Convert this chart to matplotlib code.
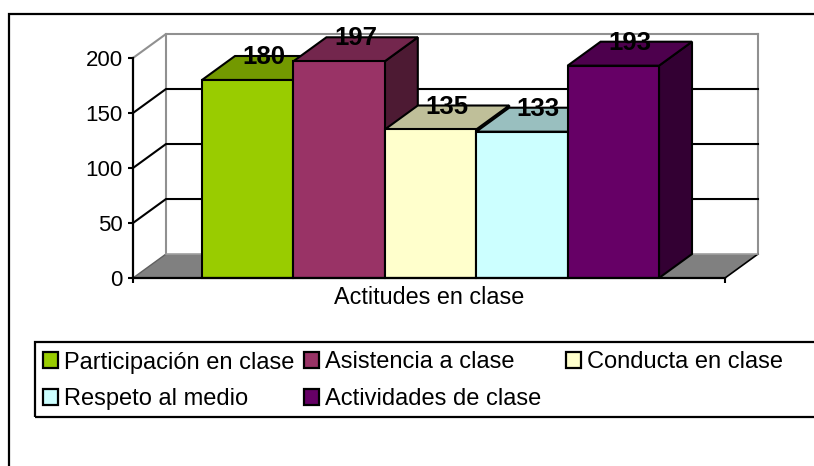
import matplotlib
matplotlib.use("Agg")
import matplotlib.pyplot as plt
from matplotlib.patches import Polygon, Rectangle, Patch

plt.rcParams['font.family'] = ['Liberation Sans', 'DejaVu Sans']

# ---- data ----
category = "Actitudes en clase"
series = ["Participación en clase", "Asistencia a clase", "Conducta en clase",
          "Respeto al medio", "Actividades de clase"]
values = [180, 197, 135, 133, 193]
front_colors = ["#99CC00", "#993366", "#FFFFCC", "#CCFFFF", "#660066"]
top_colors = ["#739900", "#73264D", "#BFBF99", "#99BFBF", "#4D004D"]
side_colors = ["#4D6600", "#4D1A33", "#808066", "#668080", "#330033"]
yticks = [0, 50, 100, 150, 200]

W, H = 814, 466
fig = plt.figure(figsize=(W / 100, H / 100), dpi=100)


def fx(px):
    return px / W


def fy(py):
    return 1 - py / H


# outer chart border (extends beyond image on right/bottom)
fig.add_artist(Rectangle((fx(9), fy(490)), fx(840) - fx(9), fy(14) - fy(490),
                         transform=fig.transFigure, fill=False, edgecolor='black', lw=1.6))
# legend box
fig.add_artist(Rectangle((fx(35), fy(417)), fx(840) - fx(35), fy(341.5) - fy(417),
                         transform=fig.transFigure, fill=False, edgecolor='black', lw=1.6))

ax = fig.add_axes([fx(133), fy(278), (758 - 133) / W, (278 - 34) / H])
XL, XR = -1.255, 5.222      # front plane extent
DX, DY = 0.361, 21.8        # depth offset (x units, value units)
YMAX = yticks[-1]
ax.set_xlim(XL, 5.583)
ax.set_ylim(0, 221.8)
ax.patch.set_visible(False)

# floor
ax.add_patch(Polygon([(XL, 0), (XR, 0), (XR + DX, DY), (XL + DX, DY)], closed=True,
                     facecolor='#808080', edgecolor='none', zorder=1, clip_on=False))
ax.plot([XR, XR + DX], [0, DY], color='black', lw=1.2, zorder=1.5, clip_on=False)
ax.plot([XL, XL + DX], [0, DY], color='#606060', lw=1.0, zorder=1.5, clip_on=False)
ax.plot([XL + DX, XR + DX], [DY, DY], color='#A0A0A0', lw=1.2, zorder=1.5, clip_on=False)

# walls
ax.add_patch(Polygon([(XL + DX, DY), (XR + DX, DY), (XR + DX, YMAX + DY), (XL + DX, YMAX + DY)],
                     closed=True, facecolor='white', edgecolor='none', zorder=0.5))
ax.plot([XL + DX, XL + DX], [DY, YMAX + DY], color='#909090', lw=1.5, zorder=1.2, clip_on=False)
ax.plot([XR + DX, XR + DX], [DY, YMAX + DY], color='#909090', lw=1.5, zorder=1.2, clip_on=False)

# gridlines on side & back walls
for v in yticks[1:]:
    col = '#909090' if v == YMAX else 'black'
    ax.plot([XL, XL + DX, XR + DX], [v, v + DY, v + DY], color=col, lw=1.5,
            zorder=1.3, clip_on=False, solid_joinstyle='miter')

# bars (left to right, so later fronts cover earlier sides)
for i, (v, fc, tc, sc) in enumerate(zip(values, front_colors, top_colors, side_colors)):
    z = 3 + 3 * i
    x0, x1 = i - 0.5, i + 0.5
    ax.add_patch(Polygon([(x1, 0), (x1 + DX, DY), (x1 + DX, v + DY), (x1, v)], closed=True,
                         facecolor=sc, edgecolor='black', lw=1.5, zorder=z, clip_on=False,
                         joinstyle='miter'))
    ax.add_patch(Polygon([(x0, v), (x1, v), (x1 + DX, v + DY), (x0 + DX, v + DY)], closed=True,
                         facecolor=tc, edgecolor='black', lw=1.5, zorder=z + 1, clip_on=False,
                         joinstyle='miter'))
    ax.bar(i, v, width=1.0, color=fc, edgecolor='black', linewidth=1.5, zorder=z + 2,
           clip_on=False)

for i, v in enumerate(values):
    ax.text(i + DX / 2, v + DY - 1, str(v), ha='center', va='center', fontsize=18.5,
            fontweight='bold', color='black', zorder=100)

# axes styling
for s in ['top', 'right']:
    ax.spines[s].set_visible(False)
ax.spines['left'].set_bounds(0, YMAX)
ax.spines['bottom'].set_bounds(XL, XR)
for s in ['left', 'bottom']:
    ax.spines[s].set_linewidth(1.6)
    ax.spines[s].set_zorder(50)
ax.set_yticks(yticks)
ax.set_yticklabels([str(t) for t in yticks])
ax.tick_params(axis='y', direction='out', length=3.5, width=1.5, labelsize=16, pad=4)
ax.set_xticks([(XL + XR) / 2])
ax.set_xticklabels([category])
ax.tick_params(axis='x', which='major', length=0, labelsize=16.8, pad=6)
ax.set_xticks([XL, XR], minor=True)
ax.tick_params(axis='x', which='minor', direction='out', length=3.5, width=1.5)

# legend (three columns)
handles = [Patch(facecolor=c, edgecolor='black', linewidth=1.6) for c in front_colors]
cols = [[0, 3], [1, 4], [2]]
col_x = [43, 304, 566]
for xi, idx in zip(col_x, cols):
    fig.legend([handles[k] for k in idx], [series[k] for k in idx], loc='upper left',
               bbox_to_anchor=(fx(xi), fy(351.5)), bbox_transform=fig.transFigure,
               frameon=False, fontsize=17, handlelength=0.65, handleheight=0.65,
               handletextpad=0.25, labelspacing=0.62, borderpad=0, borderaxespad=0)

fig.savefig("out.png", dpi=100)
